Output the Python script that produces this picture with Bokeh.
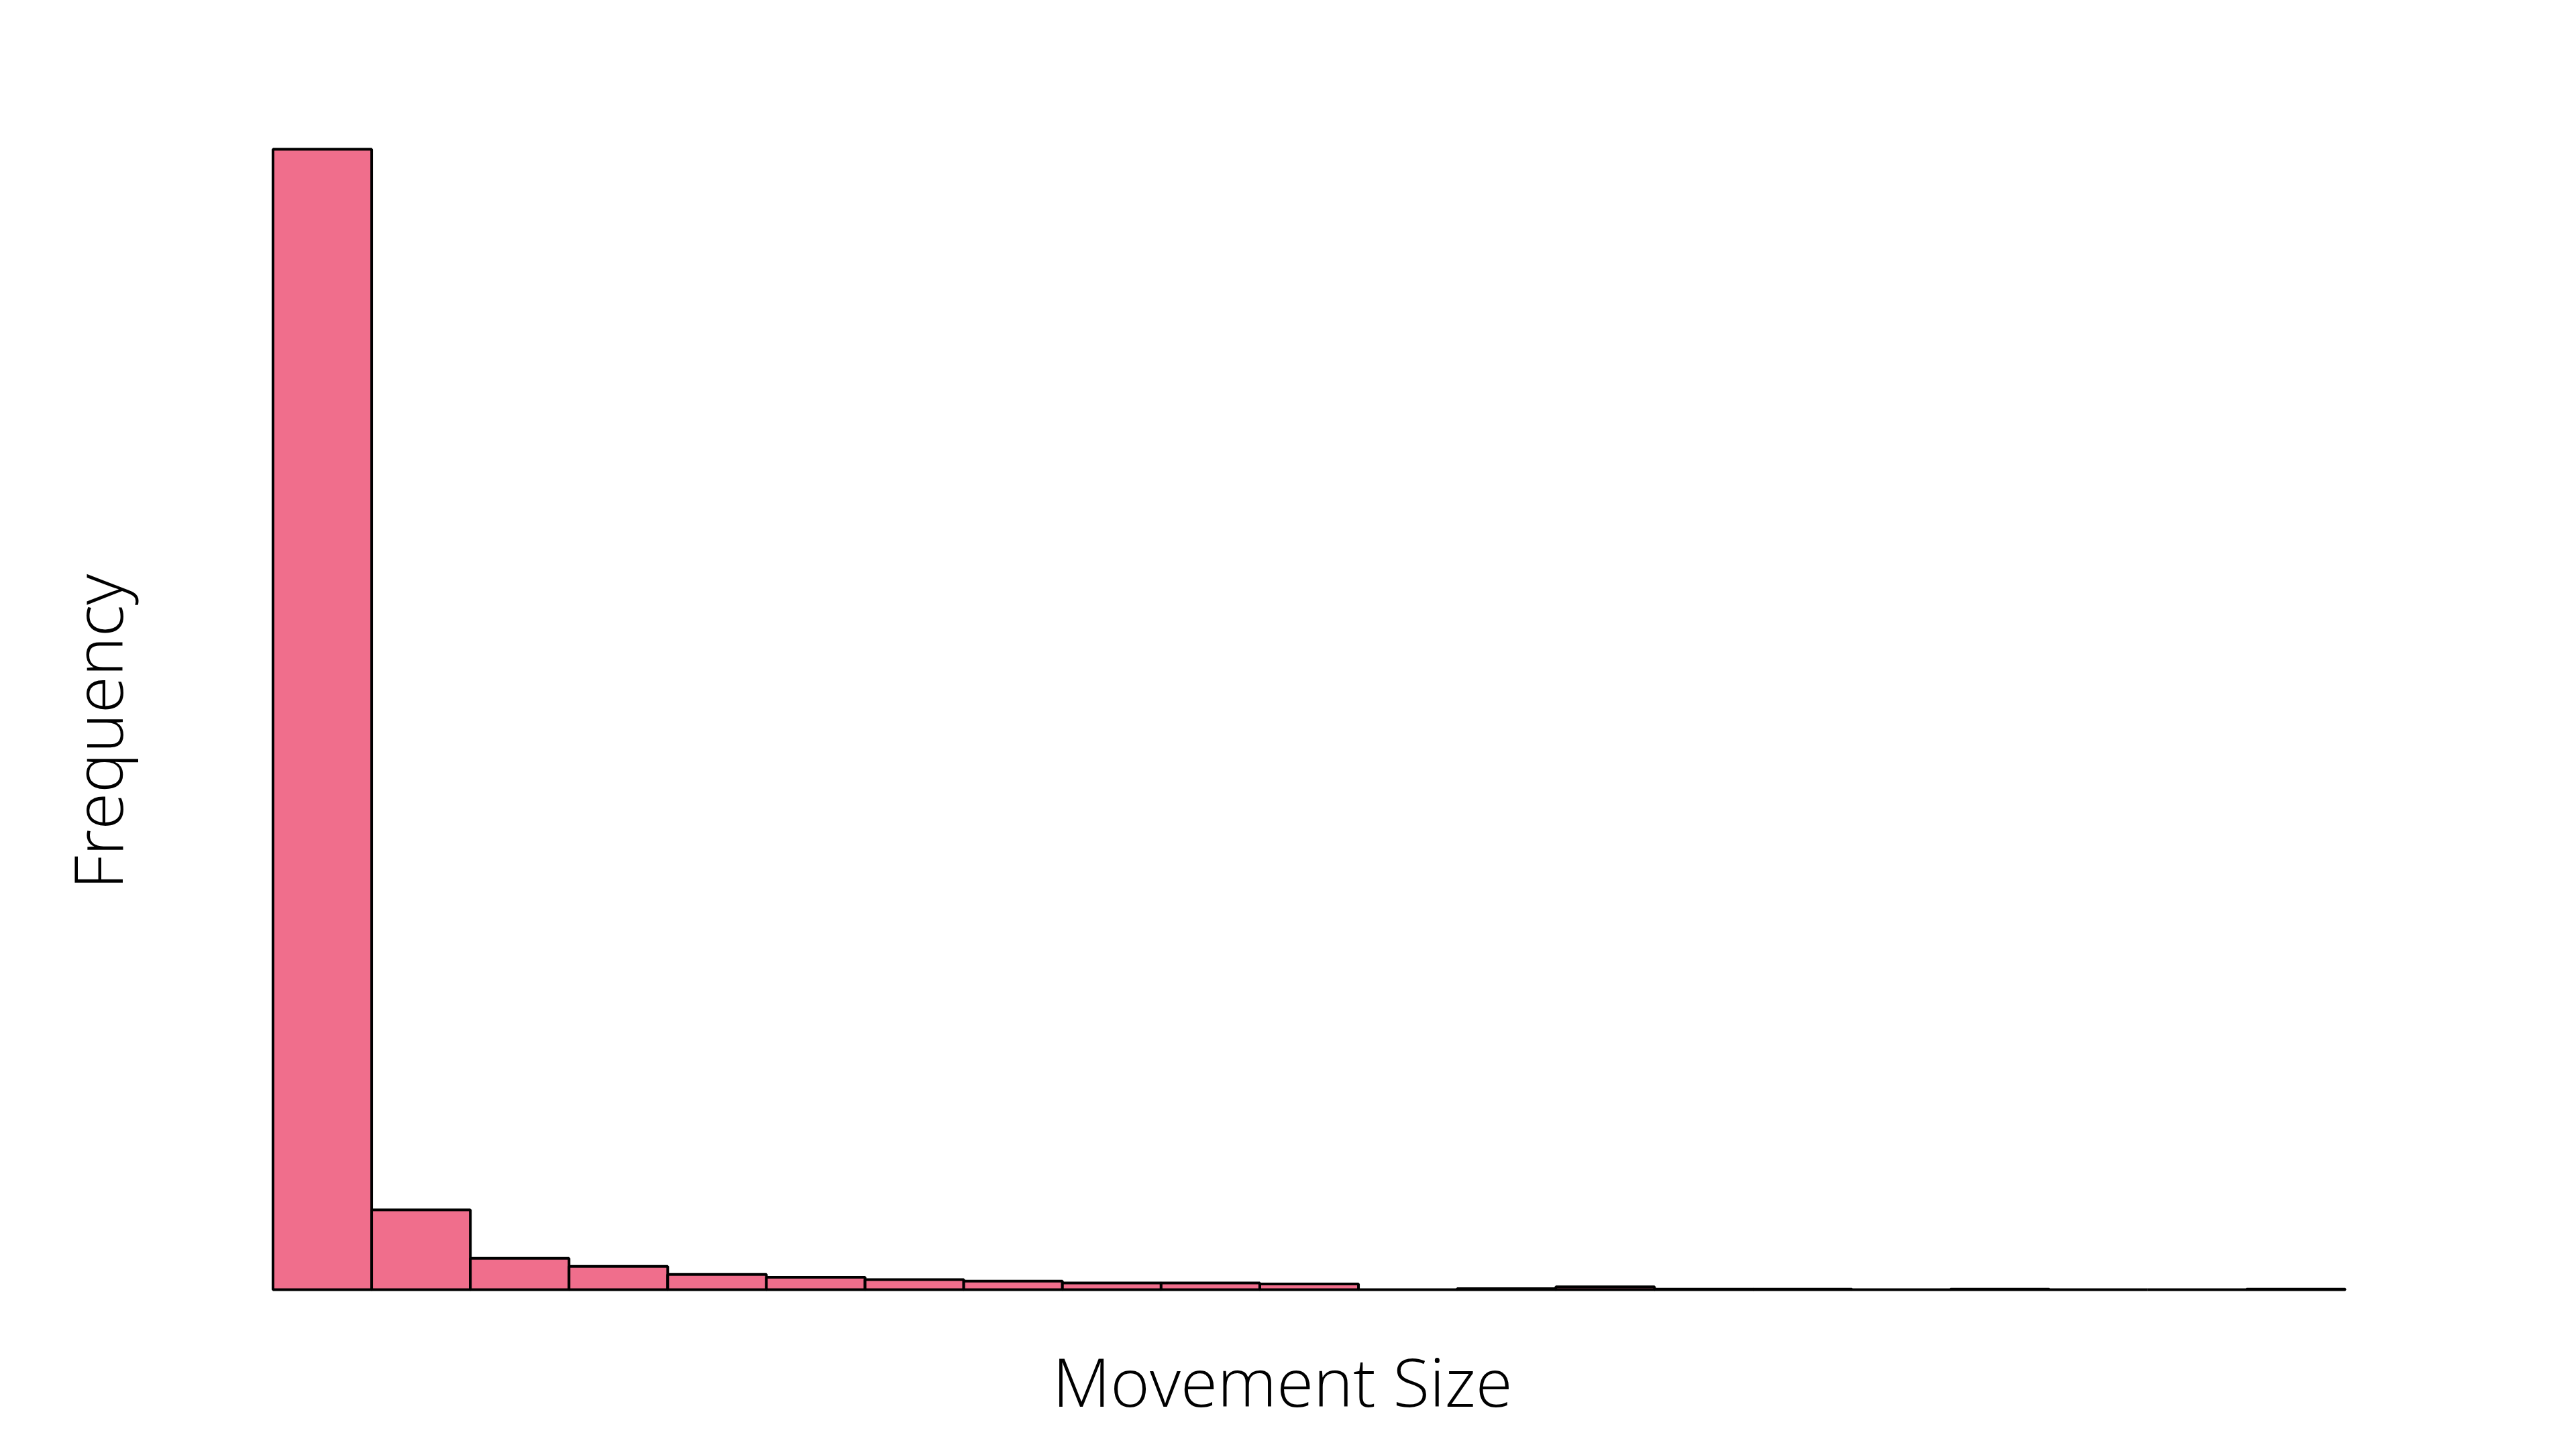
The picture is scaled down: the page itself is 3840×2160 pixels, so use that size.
from bokeh.plotting import figure
from bokeh.models import ColumnDataSource, Range1d
from bokeh.embed import file_html
from bokeh.resources import INLINE

# Histogram data
bin_edges = [0, 1, 2, 3, 4, 5, 6, 7, 8, 9, 10, 11, 12, 13, 14, 15, 16, 17, 18, 19, 20, 21]
frequency = [2400, 168, 66, 49, 32, 26, 21, 18, 14, 14, 12, 0, 2, 6, 1, 1, 0, 1, 0, 0, 1]
x_label = "Movement Size"
y_label = "Frequency"

src = ColumnDataSource(dict(
    left=bin_edges[:-1],
    right=bin_edges[1:],
    top=frequency,
    bottom=[0] * len(frequency),
))

p = figure(
    width=3824, height=2144,
    output_backend="svg", toolbar_location=None,
    x_range=Range1d(-0.377, 21.01),
    y_range=Range1d(-59.3, 2431),
    min_border_left=351, min_border_right=327,
    min_border_top=200, min_border_bottom=180,
    background_fill_color="white", border_fill_color="white",
)

p.quad(left="left", right="right", top="top", bottom="bottom", source=src,
       fill_color="#f06e8c", line_color="black", line_width=4)

for ax in (p.xaxis, p.yaxis):
    ax.ticker = []
    ax.axis_line_color = None
    ax.major_tick_line_color = None
    ax.minor_tick_line_color = None
    ax.major_tick_out = 0
    ax.major_tick_in = 0
    ax.major_label_standoff = 0
    ax.axis_label_text_font = "Open Sans"
    ax.axis_label_text_font_size = "100px"
    ax.axis_label_text_font_style = "normal"
    ax.axis_label_text_color = "black"

p.xaxis.axis_label = x_label
p.yaxis.axis_label = y_label
p.xaxis.axis_label_standoff = 25
p.yaxis.axis_label_standoff = 140

p.xgrid.visible = False
p.ygrid.visible = False
p.outline_line_color = None

open("out.html", "w").write(file_html(p, INLINE))
